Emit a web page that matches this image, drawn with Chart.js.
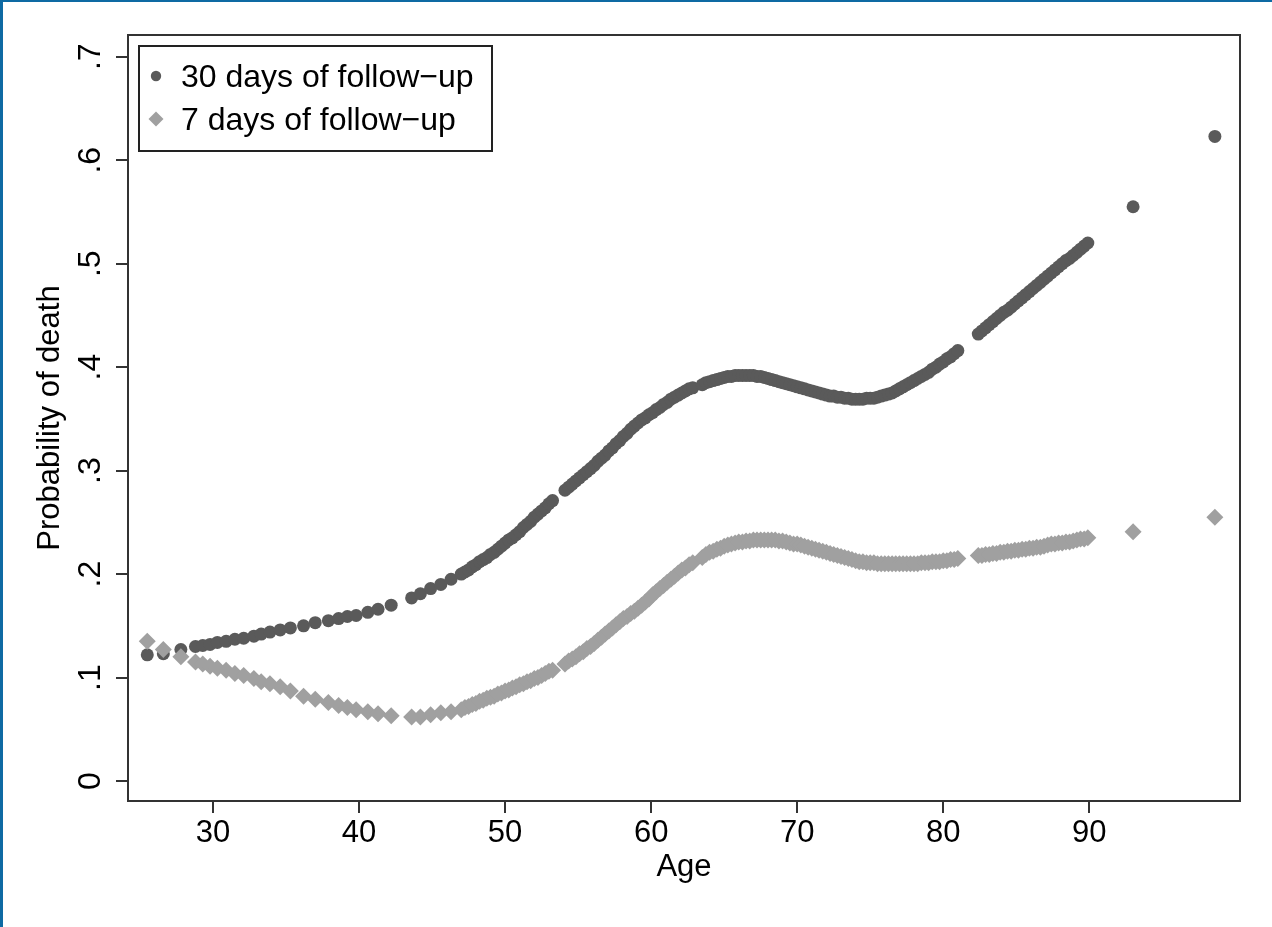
<!DOCTYPE html>
<html>
<head>
<meta charset="utf-8">
<title>Probability of death by age</title>
<script src="https://cdn.jsdelivr.net/npm/chart.js@4.4.1/dist/chart.umd.min.js"></script>
<style>
    body { margin: 0; background: #ffffff; }
    #wrap { width: 1272px; height: 927px; }
</style>
</head>
<body>
<div id="wrap"><canvas id="deathChart" width="1272" height="927"></canvas></div>
<script>
// Edades observadas (compartidas por las dos series)
const ages = [
    25.5, 26.6, 27.8, 28.8, 29.3, 29.8, 30.3, 30.9, 31.5, 32.1, 32.8, 33.3, 33.9, 34.6, 35.3,
    36.2, 37.0, 37.9, 38.6, 39.2, 39.8, 40.6, 41.3, 42.2, 43.6, 44.2, 44.9, 45.6, 46.3,
    47.00, 47.25, 47.50, 47.75, 48.00, 48.25, 48.50, 48.75, 49.00, 49.25, 49.50, 49.75, 50.00,
    50.25, 50.50, 50.75, 51.00, 51.25, 51.50, 51.75, 52.00, 52.25, 52.50, 52.75, 53.00, 53.25,
    54.10, 54.35, 54.60, 54.85, 55.10, 55.35, 55.60, 55.85, 56.10, 56.35, 56.60, 56.85,
    57.10, 57.35, 57.60, 57.85, 58.10, 58.35, 58.60, 58.85, 59.10, 59.35, 59.60, 59.85,
    60.10, 60.35, 60.60, 60.85, 61.10, 61.35, 61.60, 61.85, 62.10, 62.35, 62.60, 62.85,
    63.50, 63.75, 64.00, 64.25, 64.50, 64.75, 65.00, 65.25, 65.50, 65.75,
    66.00, 66.25, 66.50, 66.75, 67.00, 67.25, 67.50, 67.75, 68.00, 68.25,
    68.50, 68.75, 69.00, 69.25, 69.50, 69.75, 70.00, 70.25, 70.50, 70.75,
    71.00, 71.25, 71.50, 71.75, 72.00, 72.25, 72.50, 72.75, 73.00, 73.25,
    73.50, 73.75, 74.00, 74.25, 74.50, 74.75, 75.00, 75.25, 75.50, 75.75,
    76.00, 76.25, 76.50, 76.75, 77.00, 77.25, 77.50, 77.75, 78.00, 78.25,
    78.50, 78.75, 79.00, 79.25, 79.50, 79.75, 80.00, 80.25, 80.50, 80.75, 81.00,
    82.40, 82.65, 82.90, 83.15, 83.40, 83.65, 83.90, 84.15, 84.40, 84.65,
    84.90, 85.15, 85.40, 85.65, 85.90, 86.15, 86.40, 86.65, 86.90, 87.15,
    87.40, 87.65, 87.90, 88.15, 88.40, 88.65, 88.90, 89.15, 89.40, 89.65, 89.90,
    93.0, 98.6
];

// Probabilidad de muerte a 30 días
const death30 = [
    .122, .123, .127, .130, .131, .132, .134, .135, .137, .138, .140, .142, .144, .146, .148,
    .150, .153, .155, .157, .159, .160, .163, .166, .170, .177, .181, .186, .190, .195,
    .200, .202, .204, .207, .209, .212, .214, .216, .219, .221, .224, .227, .230,
    .233, .235, .238, .241, .245, .248, .251, .255, .258, .261, .264, .268, .271,
    .281, .284, .287, .290, .293, .296, .299, .302, .305, .309, .312, .315,
    .319, .322, .326, .329, .333, .336, .340, .343, .346, .349, .351, .354,
    .356, .359, .361, .364, .366, .369, .371, .373, .375, .377, .379, .380,
    .383, .385, .386, .387, .388, .389, .390, .391, .391, .392,
    .392, .392, .392, .392, .392, .391, .391, .390, .389, .388,
    .387, .386, .385, .384, .383, .382, .381, .380, .379, .378,
    .377, .376, .375, .374, .373, .372, .372, .371, .371, .370,
    .370, .369, .369, .369, .369, .370, .370, .370, .371, .372,
    .373, .374, .375, .377, .379, .381, .383, .385, .387, .389,
    .391, .393, .395, .398, .400, .403, .405, .408, .410, .413, .416,
    .432, .435, .438, .441, .444, .447, .450, .453, .455, .458,
    .461, .464, .467, .470, .473, .476, .479, .482, .485, .488,
    .491, .494, .497, .500, .503, .505, .508, .511, .514, .517, .520,
    .555, .623
];

// Probabilidad de muerte a 7 días
const death7 = [
    .135, .127, .120, .115, .113, .111, .109, .107, .104, .102, .099, .096, .094, .091, .087,
    .082, .079, .076, .073, .071, .069, .067, .065, .063, .062, .062, .064, .066, .067,
    .069, .071, .072, .074, .075, .077, .078, .080, .081, .082, .084, .085, .087,
    .088, .090, .091, .093, .094, .096, .097, .099, .100, .102, .104, .106, .107,
    .113, .116, .118, .120, .123, .125, .128, .130, .133, .136, .139, .142,
    .145, .148, .151, .154, .157, .159, .162, .164, .167, .170, .173, .176,
    .180, .183, .186, .189, .192, .195, .198, .201, .204, .206, .209, .211,
    .216, .219, .221, .222, .224, .225, .227, .228, .229, .230,
    .231, .231, .232, .232, .233, .233, .233, .233, .233, .233,
    .233, .232, .232, .231, .230, .229, .229, .228, .227, .226,
    .225, .224, .223, .222, .221, .220, .219, .218, .217, .216,
    .215, .214, .213, .212, .212, .211, .211, .211, .210, .210,
    .210, .210, .210, .210, .210, .210, .210, .210, .210, .210,
    .211, .211, .211, .212, .212, .212, .213, .213, .214, .214, .215,
    .218, .218, .219, .219, .220, .220, .221, .221, .222, .222,
    .223, .223, .224, .224, .225, .225, .226, .226, .227, .228,
    .229, .229, .230, .230, .231, .231, .232, .233, .234, .234, .235,
    .241, .255
];

const seriesLabels = ['30 days of follow\u2212up', '7 days of follow\u2212up'];
const xTicks = [30, 40, 50, 60, 70, 80, 90];
const yTicks = [0, 0.1, 0.2, 0.3, 0.4, 0.5, 0.6, 0.7];

// Colores y fuente
const darkGray = '#5a5a5a';
const lightGray = '#a0a0a0';
const frameColor = '#333333';
const fontFamily = "'Liberation Sans', Arial, Helvetica, sans-serif";
const fontSize = 31;
const legendFontSize = 32;

function toPoints(values) {
    return ages.map((a, i) => ({ x: a, y: values[i] }));
}

function formatProb(v) {
    if (Math.abs(v) < 1e-9) return '0';
    return v.toFixed(1).replace(/^0/, '');
}

// Marco azul, caja del gráfico, etiquetas del eje Y y leyenda
const stataPlugin = {
    id: 'stataPlugin',
    beforeDraw(chart) {
        const ctx = chart.ctx;
        ctx.save();
        ctx.fillStyle = '#0e6aa3';
        ctx.fillRect(0, 0, chart.width, 2);
        ctx.fillRect(0, 0, 3, chart.height);
        ctx.restore();
    },
    beforeDatasetsDraw(chart) {
        const ctx = chart.ctx;
        const a = chart.chartArea;
        ctx.save();
        ctx.strokeStyle = frameColor;
        ctx.lineWidth = 2;
        ctx.strokeRect(a.left, a.top, a.right - a.left, a.bottom - a.top);

        // etiquetas rotadas del eje Y
        const yScale = chart.scales.y;
        ctx.fillStyle = '#000000';
        ctx.font = legendFontSize + 'px ' + fontFamily;
        ctx.textAlign = 'center';
        ctx.textBaseline = 'alphabetic';
        yScale.ticks.forEach(t => {
            const py = yScale.getPixelForValue(t.value);
            ctx.save();
            ctx.translate(a.left - 28, py);
            ctx.rotate(-Math.PI / 2);
            ctx.fillText(formatProb(t.value), 0, 0);
            ctx.restore();
        });
        ctx.restore();
    },
    afterDraw(chart) {
        const ctx = chart.ctx;
        const a = chart.chartArea;
        const boxX = a.left + 11;
        const boxY = a.top + 11;
        ctx.save();
        ctx.fillStyle = '#ffffff';
        ctx.fillRect(boxX, boxY, 353, 105);
        ctx.strokeStyle = '#222222';
        ctx.lineWidth = 2;
        ctx.strokeRect(boxX, boxY, 353, 105);

        const rows = [boxY + 41, boxY + 84];
        const markerX = boxX + 17;
        chart.data.datasets.forEach((ds, i) => {
            const cy = rows[i] - 11;
            ctx.fillStyle = ds.backgroundColor;
            ctx.beginPath();
            if (ds.pointStyle === 'rectRot') {
                const r = 7.5;
                ctx.moveTo(markerX - r, cy);
                ctx.lineTo(markerX, cy - r);
                ctx.lineTo(markerX + r, cy);
                ctx.lineTo(markerX, cy + r);
                ctx.closePath();
            } else {
                ctx.arc(markerX, cy, 5.2, 0, Math.PI * 2);
            }
            ctx.fill();

            ctx.fillStyle = '#000000';
            ctx.font = legendFontSize + 'px ' + fontFamily;
            ctx.textAlign = 'left';
            ctx.textBaseline = 'alphabetic';
            ctx.fillText(ds.label, boxX + 42, rows[i]);
        });
        ctx.restore();
    }
};

const ctx = document.getElementById('deathChart').getContext('2d');

const deathChart = new Chart(ctx, {
    type: 'scatter',
    data: {
        datasets: [
            {
                label: seriesLabels[0],
                data: toPoints(death30),
                backgroundColor: darkGray,
                borderColor: darkGray,
                pointStyle: 'circle',
                pointRadius: 6.5,
                pointBorderWidth: 0,
                order: 2
            },
            {
                label: seriesLabels[1],
                data: toPoints(death7),
                backgroundColor: lightGray,
                borderColor: lightGray,
                pointStyle: 'rectRot',
                pointRadius: 8.5,
                pointBorderWidth: 0,
                order: 1
            }
        ]
    },
    options: {
        responsive: false,
        animation: false,
        layout: {
            padding: { top: 35, right: 32, left: 0, bottom: 0 }
        },
        plugins: {
            legend: { display: false },
            tooltip: { enabled: false }
        },
        scales: {
            x: {
                type: 'linear',
                min: 24.18,
                max: 100.32,
                afterBuildTicks: function(scale) {
                    scale.ticks = xTicks.map(v => ({ value: v }));
                },
                afterFit: function(scale) {
                    scale.height = 126;
                },
                border: { display: false },
                grid: {
                    drawOnChartArea: false,
                    drawTicks: true,
                    tickLength: 12,
                    color: frameColor,
                    lineWidth: 2
                },
                ticks: {
                    color: '#000000',
                    padding: 2,
                    maxRotation: 0,
                    font: { family: fontFamily, size: fontSize }
                },
                title: {
                    display: true,
                    text: 'Age',
                    color: '#000000',
                    font: { family: fontFamily, size: fontSize },
                    padding: { top: 0, bottom: 41 }
                }
            },
            y: {
                type: 'linear',
                min: -0.0193,
                max: 0.721,
                afterBuildTicks: function(scale) {
                    scale.ticks = yTicks.map(v => ({ value: v }));
                },
                afterFit: function(scale) {
                    scale.width = 128;
                },
                border: { display: false },
                grid: {
                    drawOnChartArea: false,
                    drawTicks: true,
                    tickLength: 12,
                    color: frameColor,
                    lineWidth: 2
                },
                ticks: {
                    display: false
                },
                title: {
                    display: true,
                    text: 'Probability of death',
                    color: '#000000',
                    font: { family: fontFamily, size: fontSize },
                    padding: { top: 32, bottom: 0 }
                }
            }
        }
    },
    plugins: [stataPlugin]
});
</script>
</body>
</html>
